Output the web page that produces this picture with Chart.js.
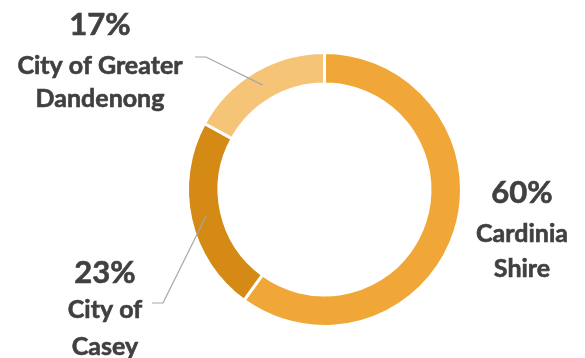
<!DOCTYPE html>
<html>
<head>
<meta charset="utf-8">
<script src="https://cdn.jsdelivr.net/npm/chart.js@4.4.1/dist/chart.umd.min.js"></script>
<style>
  html, body { margin: 0; padding: 0; background: #fff; }
  #wrap { width: 585px; height: 358px; position: relative; }
</style>
</head>
<body>
<div id="wrap"><canvas id="chart" width="585" height="358"></canvas></div>
<script>
var regions = ["Cardinia Shire", "City of Casey", "City of Greater Dandenong"];
var shares = [60, 23, 17];
var sliceColors = ["#F0A738", "#D48A14", "#F5C477"];
var labelLines = [["Cardinia", "Shire"], ["City of", "Casey"], ["City of Greater", "Dandenong"]];

// where each label block sits (centre x, baselines of the % and name lines)
var labelLayout = [
	{ x: 522, pctY: 203, nameY: [242, 277], leader: null },
	{ x: 105, pctY: 283, nameY: [318, 355], leader: { sx: 152, sy: 303, ex: 163 } },
	{ x: 100, pctY: 35, nameY: [74, 107], leader: { sx: 195, sy: 57, ex: 206 } }
];

var labelPlugin = {
	id: "sliceLabels",
	afterDatasetsDraw: function(chart) {
		var ctx = chart.ctx;
		var meta = chart.getDatasetMeta(0);
		var total = shares.reduce(function(a, b) { return a + b; }, 0);
		ctx.save();
		meta.data.forEach(function(arc, i) {
			var lay = labelLayout[i];
			var props = arc.getProps(["x", "y", "startAngle", "endAngle", "innerRadius", "outerRadius"], true);
			if (lay.leader) {
				var mid = (props.startAngle + props.endAngle) / 2;
				var r = (props.innerRadius + props.outerRadius) / 2;
				ctx.strokeStyle = "#A6A6A6";
				ctx.lineWidth = 1.2;
				ctx.beginPath();
				ctx.moveTo(lay.leader.sx, lay.leader.sy);
				ctx.lineTo(lay.leader.ex, lay.leader.sy);
				ctx.lineTo(props.x + Math.cos(mid) * r, props.y + Math.sin(mid) * r);
				ctx.stroke();
			}
			ctx.fillStyle = "#404040";
			ctx.strokeStyle = "#404040";
			ctx.lineWidth = 0.6;
			ctx.textAlign = "center";
			ctx.textBaseline = "alphabetic";
			ctx.font = "bold 31px Lato";
			var pct = Math.round(shares[i] / total * 100) + "%";
			ctx.fillText(pct, lay.x, lay.pctY);
			ctx.strokeText(pct, lay.x, lay.pctY);
			ctx.font = "bold 25px Lato";
			labelLines[i].forEach(function(line, j) {
				ctx.fillText(line, lay.x, lay.nameY[j]);
				ctx.strokeText(line, lay.x, lay.nameY[j]);
			});
		});
		ctx.restore();
	}
};

new Chart(document.getElementById("chart"), {
	type: "doughnut",
	data: {
		labels: regions,
		datasets: [{
			data: shares,
			backgroundColor: sliceColors,
			borderColor: "#ffffff",
			borderWidth: 3,
			hoverOffset: 0
		}]
	},
	options: {
		responsive: false,
		animation: false,
		cutout: "77%",
		layout: { padding: { left: 186, right: 122, top: 51, bottom: 30 } },
		plugins: {
			legend: { display: false },
			tooltip: { enabled: false }
		}
	},
	plugins: [labelPlugin]
});
</script>
</body>
</html>
